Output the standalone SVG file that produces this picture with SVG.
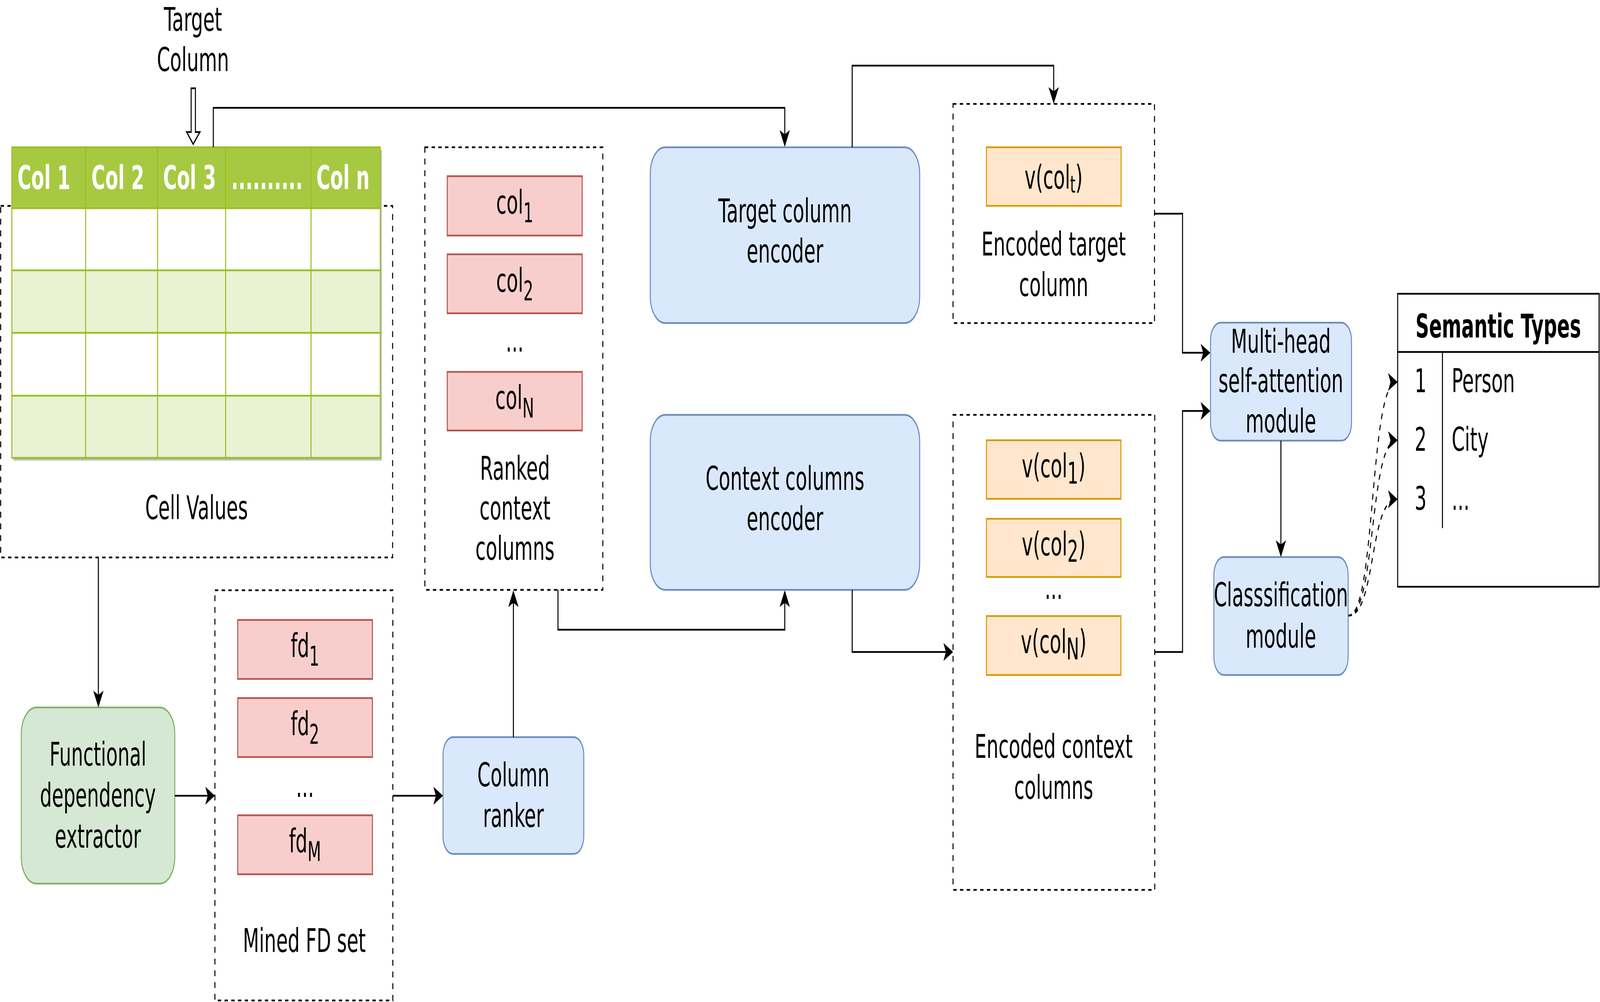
<svg xmlns="http://www.w3.org/2000/svg" width="7140" height="2565" viewBox="0 0 7140 2565" preserveAspectRatio="none" style="width:100%;height:100%">
<style>
text{font-family:"DejaVu Sans","Verdana",sans-serif;font-size:84px;fill:#000}
.b{font-weight:bold}
.w{fill:#fff}
.m{text-anchor:middle}
.dash{fill:#fff;stroke:#000;stroke-width:4.5;stroke-dasharray:15 15}
.blue{fill:#dae8fc;stroke:#6c8ebf;stroke-width:4.5}
.green{fill:#d5e8d4;stroke:#82b366;stroke-width:4.5}
.red{fill:#f8cecc;stroke:#b85450;stroke-width:4.5}
.orange{fill:#ffe6cc;stroke:#d79b00;stroke-width:4.5}
.grid{fill:none;stroke:#98bf21;stroke-width:4.5}
.edge{fill:none;stroke:#000;stroke-width:4.5}
.arr{marker-end:url(#ah)}
.dedge{fill:none;stroke:#000;stroke-width:4.5;stroke-dasharray:15 15}
</style>
<defs>
<marker id="ah" markerUnits="userSpaceOnUse" markerWidth="48" markerHeight="50" viewBox="0 0 48 50" refX="40" refY="25" orient="auto">
<path d="M44,25 L1,2 L12,25 L1,48 Z" fill="#000"/>
</marker>
</defs>
<rect width="7140" height="2565" fill="#fff"/>

<g id="target-column-label">
<text class="m" x="861" y="79">Target</text>
<text class="m" x="861" y="182">Column</text>
<path d="M853,226 L872,226 L872,338 L892,338 L862,369 L833,338 L853,338 Z" fill="#fff" stroke="#000" stroke-width="4.5"/>
</g>

<g id="cell-values">
<rect class="dash" x="3" y="527" width="1749" height="900"/>
<text class="m" x="877" y="1329">Cell Values</text>
</g>

<g id="table">
<rect x="60" y="384" width="1644" height="795" fill="#bfbfbf"/>
<rect x="53" y="377" width="1644" height="795" fill="#fff"/>
<rect x="53" y="377" width="1644" height="156" fill="#a7c942"/>
<rect x="53" y="692" width="1644" height="160" fill="#eaf2d3"/>
<rect x="53" y="1013" width="1644" height="159" fill="#eaf2d3"/>
<rect class="grid" x="53" y="377" width="1644" height="795"/>
<path class="grid" d="M53,533 H1697 M53,692 H1697 M53,852 H1697 M53,1013 H1697 M382,377 V1172 M703,377 V1172 M1007,377 V1172 M1388,377 V1172"/>
<text class="b w" x="78" y="484">Col 1</text>
<text class="b w" x="408" y="484">Col 2</text>
<text class="b w" x="728" y="484">Col 3</text>
<text class="b w" x="1032" y="484">..........</text>
<text class="b w" x="1412" y="484">Col n</text>
</g>

<g id="fd-extractor">
<rect class="green" x="95" y="1811" width="685" height="451" rx="68" ry="68"/>
<text class="m" x="437" y="1960">Functional</text>
<text class="m" x="437" y="2065">dependency</text>
<text class="m" x="437" y="2170">extractor</text>
</g>

<g id="mined-fd-set">
<rect class="dash" x="959" y="1511" width="794" height="1050"/>
<rect class="red" x="1061" y="1587" width="601" height="151"/>
<rect class="red" x="1061" y="1787" width="601" height="151"/>
<rect class="red" x="1061" y="2087" width="601" height="151"/>
<text class="m" x="1361" y="1682">fd<tspan font-size="70" dy="22">1</tspan></text>
<text class="m" x="1361" y="1882">fd<tspan font-size="70" dy="22">2</tspan></text>
<text class="m" x="1361" y="2040">...</text>
<text class="m" x="1361" y="2182">fd<tspan font-size="70" dy="22">M</tspan></text>
<text class="m" x="1358" y="2437">Mined FD set</text>
</g>

<g id="column-ranker">
<rect class="blue" x="1977" y="1887" width="628" height="299" rx="45" ry="45"/>
<text class="m" x="2291" y="2013">Column</text>
<text class="m" x="2291" y="2117">ranker</text>
</g>

<g id="ranked-context-columns">
<rect class="dash" x="1896" y="377" width="794" height="1133"/>
<rect class="red" x="1996" y="451" width="602" height="152"/>
<rect class="red" x="1996" y="651" width="602" height="151"/>
<rect class="red" x="1996" y="952" width="602" height="150"/>
<text class="m" x="2297" y="547">col<tspan font-size="70" dy="22">1</tspan></text>
<text class="m" x="2297" y="747">col<tspan font-size="70" dy="22">2</tspan></text>
<text class="m" x="2297" y="900">...</text>
<text class="m" x="2297" y="1047">col<tspan font-size="70" dy="22">N</tspan></text>
<text class="m" x="2298" y="1228">Ranked</text>
<text class="m" x="2298" y="1330">context</text>
<text class="m" x="2298" y="1433">columns</text>
</g>

<g id="target-column-encoder">
<rect class="blue" x="2902" y="377" width="1202" height="450" rx="67" ry="67"/>
<text class="m" x="3503" y="569">Target column</text>
<text class="m" x="3503" y="672">encoder</text>
</g>

<g id="context-columns-encoder">
<rect class="blue" x="2902" y="1062" width="1202" height="448" rx="67" ry="67"/>
<text class="m" x="3503" y="1254">Context columns</text>
<text class="m" x="3503" y="1357">encoder</text>
</g>

<g id="encoded-target-column">
<rect class="dash" x="4253" y="266" width="899" height="561"/>
<rect class="orange" x="4402" y="377" width="601" height="150"/>
<text class="m" x="4702" y="483">v(col<tspan font-size="60" dy="10">t</tspan><tspan dy="-10">)</tspan></text>
<text class="m" x="4702" y="654">Encoded target</text>
<text class="m" x="4702" y="758">column</text>
</g>

<g id="encoded-context-columns">
<rect class="dash" x="4253" y="1062" width="900" height="1216"/>
<rect class="orange" x="4402" y="1127" width="600" height="150"/>
<rect class="orange" x="4402" y="1328" width="600" height="149"/>
<rect class="orange" x="4402" y="1577" width="600" height="151"/>
<text class="m" x="4702" y="1222">v(col<tspan font-size="76" dy="16">1</tspan><tspan dy="-16">)</tspan></text>
<text class="m" x="4702" y="1422">v(col<tspan font-size="76" dy="16">2</tspan><tspan dy="-16">)</tspan></text>
<text class="m" x="4702" y="1533">...</text>
<text class="m" x="4702" y="1672">v(col<tspan font-size="76" dy="16">N</tspan><tspan dy="-16">)</tspan></text>
<text class="m" x="4702" y="1940">Encoded context</text>
<text class="m" x="4702" y="2045">columns</text>
</g>

<g id="multi-head-attention">
<rect class="blue" x="5402" y="826" width="629" height="302" rx="45" ry="45"/>
<text class="m" x="5716" y="903">Multi-head</text>
<text class="m" x="5716" y="1004">self-attention</text>
<text class="m" x="5716" y="1107">module</text>
</g>

<g id="classification-module">
<rect class="blue" x="5417" y="1426" width="599" height="302" rx="45" ry="45"/>
<text class="m" x="5716" y="1552">Classsification</text>
<text class="m" x="5716" y="1658">module</text>
</g>

<g id="semantic-types">
<rect x="6237" y="752" width="899" height="750" fill="#fff" stroke="#000" stroke-width="4.5"/>
<path d="M6237,901 H7136 M6437,901 V1352" fill="none" stroke="#000" stroke-width="4.5"/>
<text class="b m" x="6686" y="864">Semantic Types</text>
<text x="6313" y="1004">1</text>
<text x="6478" y="1004">Person</text>
<text x="6313" y="1154">2</text>
<text x="6478" y="1154">City</text>
<text x="6313" y="1305">3</text>
<text x="6478" y="1305">...</text>
</g>

<g id="connectors">
<path class="edge arr" d="M952,377 V276 H3502 V372"/>
<path class="edge arr" d="M439,1427 V1807"/>
<path class="edge arr" d="M780,2037 H955"/>
<path class="edge arr" d="M1753,2037 H1973"/>
<path class="edge arr" d="M2291,1887 V1515"/>
<path class="edge arr" d="M2490,1510 V1612 H3502 V1515"/>
<path class="edge arr" d="M3803,377 V168 H4702 V262"/>
<path class="edge arr" d="M3803,1510 V1669 H4249"/>
<path class="edge arr" d="M5152,547 H5277 V903 H5397"/>
<path class="edge arr" d="M5153,1669 H5277 V1052 H5397"/>
<path class="edge arr" d="M5716,1128 V1422"/>
<path class="dedge arr" d="M6018,1576 C6140,1576 6110,978 6233,978"/>
<path class="dedge arr" d="M6018,1576 C6140,1576 6110,1127 6233,1127"/>
<path class="dedge arr" d="M6018,1576 C6140,1576 6110,1278 6233,1278"/>
</g>
</svg>
